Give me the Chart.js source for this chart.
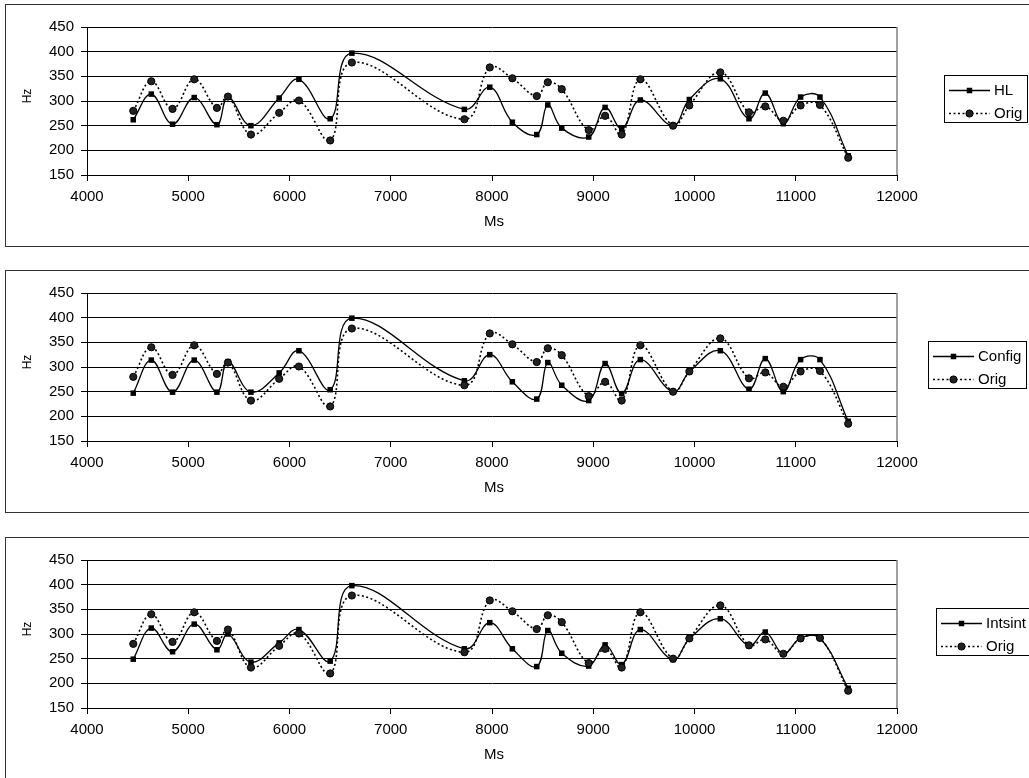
<!DOCTYPE html>
<html><head><meta charset="utf-8">
<script src="https://cdn.jsdelivr.net/npm/chart.js@4.4.0/dist/chart.umd.min.js"></script>
<style>
html,body{margin:0;padding:0;background:#fff;overflow:hidden;width:1029px;height:778px;}
.panel{position:absolute;left:5px;width:1040px;height:241px;border:1px solid #333;background:#fff;}
.panel canvas{position:absolute;left:0;top:0;}
</style></head><body>
<div class="panel" style="top:4px"><canvas id="c1" width="1030" height="241"></canvas></div>
<div class="panel" style="top:270px"><canvas id="c2" width="1030" height="241"></canvas></div>
<div class="panel" style="top:537px"><canvas id="c3" width="1030" height="241"></canvas></div>
<script>
// ---- data ----
const ms = [4457, 4635, 4845, 5059, 5283, 5392, 5619, 5898, 6093, 6402, 6616, 7727, 7978, 8201, 8442,
            8551, 8689, 8955, 9117, 9281, 9465, 9788, 9949, 10255, 10538, 10699, 10877, 11048, 11239, 11518];
const origHz = [280, 340, 284, 344, 286, 309, 232, 276, 301, 220, 378, 263, 368, 346, 310,
                338, 324, 241, 270, 232, 344, 250, 291, 358, 277, 289, 260, 291, 292, 185];
const hlHz = [262, 314, 253, 307, 252, 308, 250, 306, 344, 264, 397, 283, 328, 257, 232,
              292, 245, 227, 287, 244, 302, 250, 303, 345, 264, 316, 254, 308, 308, 189];
const configHz = [247, 314, 249, 314, 249, 311, 249, 288, 333, 254, 399, 272, 325, 270, 235,
                  309, 263, 232, 307, 246, 315, 250, 290, 333, 255, 317, 250, 315, 315, 190];
const intsintHz = [249, 312, 264, 320, 268, 300, 243, 282, 309, 245, 398, 270, 323, 270, 234,
                   307, 261, 235, 278, 238, 309, 248, 290, 331, 276, 304, 260, 292, 292, 190];
const xTicks = [4000, 5000, 6000, 7000, 8000, 9000, 10000, 11000, 12000];
const yTicks = [150, 200, 250, 300, 350, 400, 450];
const xTitle = 'Ms';
const yTitle = 'Hz';
const origLabel = 'Orig';

const FONT = '"Liberation Sans", Arial, Helvetica, sans-serif';

const decor = {
  id: 'decor',
  beforeDatasetsDraw(chart) {
    const {ctx, chartArea: a} = chart;
    ctx.save();
    ctx.strokeStyle = '#808080';
    ctx.lineWidth = 1.5;
    ctx.beginPath();
    const rx = Math.round(a.right);
    ctx.moveTo(rx, a.top);
    ctx.lineTo(rx, a.bottom);
    ctx.stroke();
    ctx.restore();
  },
  afterDraw(chart, args, o) {
    const {ctx, chartArea: a} = chart;
    ctx.save();
    ctx.fillStyle = '#000';
    ctx.textBaseline = 'middle';
    ctx.textAlign = 'center';
    ctx.font = '15px ' + FONT;
    ctx.fillText(xTitle, (a.left + a.right) / 2 + 2, a.bottom + 47);
    ctx.save();
    ctx.translate(22, (a.top + a.bottom) / 2 - 5);
    ctx.rotate(-Math.PI / 2);
    ctx.font = '12px ' + FONT;
    ctx.fillText(yTitle, 0, 0);
    ctx.restore();

    // legend
    const L = o.left, T = a.top + 48, H = 47;
    const ds = chart.data.datasets.slice().sort((p, q) => p.legendIndex - q.legendIndex);
    ctx.font = '15px ' + FONT;
    let tw = 0;
    ds.forEach(d => { tw = Math.max(tw, ctx.measureText(d.label).width); });
    const W = 50 + tw + 5;
    ctx.strokeStyle = '#000';
    ctx.lineWidth = 1;
    ctx.strokeRect(Math.round(L) + 0.5, Math.round(T) + 0.5, Math.round(W), H);
    ds.forEach((d, i) => {
      const y = Math.round(T + 14.5 + i * 23) + 0.5;
      ctx.save();
      ctx.strokeStyle = d.borderColor;
      ctx.lineWidth = d.borderWidth;
      ctx.setLineDash(d.borderDash || []);
      ctx.beginPath();
      ctx.moveTo(L + 5, y);
      ctx.lineTo(L + 46, y);
      ctx.stroke();
      ctx.restore();
      ctx.save();
      ctx.fillStyle = d.pointBackgroundColor;
      ctx.strokeStyle = d.pointBorderColor;
      ctx.lineWidth = d.pointBorderWidth;
      ctx.beginPath();
      if (d.pointStyle === 'rect') {
        const s = Math.SQRT1_2 * d.pointRadius;
        ctx.rect(L + 25.5 - s, y - s, 2 * s, 2 * s);
      } else {
        ctx.arc(L + 25.5, y, d.pointRadius, 0, Math.PI * 2);
      }
      ctx.fill();
      if (d.pointBorderWidth) ctx.stroke();
      ctx.restore();
      ctx.fillStyle = '#000';
      ctx.textAlign = 'left';
      ctx.fillText(d.label, L + 50, y);
    });
    ctx.restore();
  }
};

function makeChart(id, label, values, legendLeft) {
  const pts = arr => ms.map((x, i) => ({x: x, y: arr[i]}));
  return new Chart(document.getElementById(id), {
    type: 'line',
    data: {
      datasets: [
        {
          label: label, data: pts(values), legendIndex: 0, order: 2,
          borderColor: '#000', borderWidth: 1.3, tension: 0.4,
          pointStyle: 'rect', pointRadius: 3.9,
          pointBackgroundColor: '#000', pointBorderColor: '#000', pointBorderWidth: 0
        },
        {
          label: origLabel, data: pts(origHz), legendIndex: 1, order: 1,
          borderColor: '#000', borderWidth: 1.6, borderDash: [2, 2.5], tension: 0.4,
          pointStyle: 'circle', pointRadius: 3.6,
          pointBackgroundColor: '#222', pointBorderColor: '#000', pointBorderWidth: 1
        }
      ]
    },
    options: {
      responsive: false, animation: false, devicePixelRatio: 1,
      layout: {padding: {top: 22, right: 139, left: 0, bottom: 0}},
      plugins: {legend: {display: false}, tooltip: {enabled: false}, decor: {left: legendLeft}},
      events: [],
      scales: {
        x: {
          type: 'linear', min: 4000, max: 12000,
          afterBuildTicks: s => { s.ticks = xTicks.map(v => ({value: v})); },
          afterFit: s => { s.height = 71; },
          grid: {drawOnChartArea: false, drawTicks: true, tickLength: 6, color: '#000', lineWidth: 1},
          border: {display: true, color: '#000', width: 1},
          ticks: {color: '#000', font: {family: FONT, size: 15}, padding: 7, maxRotation: 0, autoSkip: false,
                  callback: v => String(v)}
        },
        y: {
          type: 'linear', min: 150, max: 450,
          afterBuildTicks: s => { s.ticks = yTicks.map(v => ({value: v})); },
          afterFit: s => { s.width = 81; },
          grid: {drawOnChartArea: true, drawTicks: true, tickLength: 6, color: '#000', lineWidth: 1},
          border: {display: true, color: '#000', width: 1},
          ticks: {color: '#000', font: {family: FONT, size: 15}, padding: 7, autoSkip: false,
                  callback: v => String(v)}
        }
      }
    },
    plugins: [decor]
  });
}

makeChart('c1', 'HL', hlHz, 938);
makeChart('c2', 'Config', configHz, 922);
makeChart('c3', 'Intsint', intsintHz, 930);
</script>
</body></html>
